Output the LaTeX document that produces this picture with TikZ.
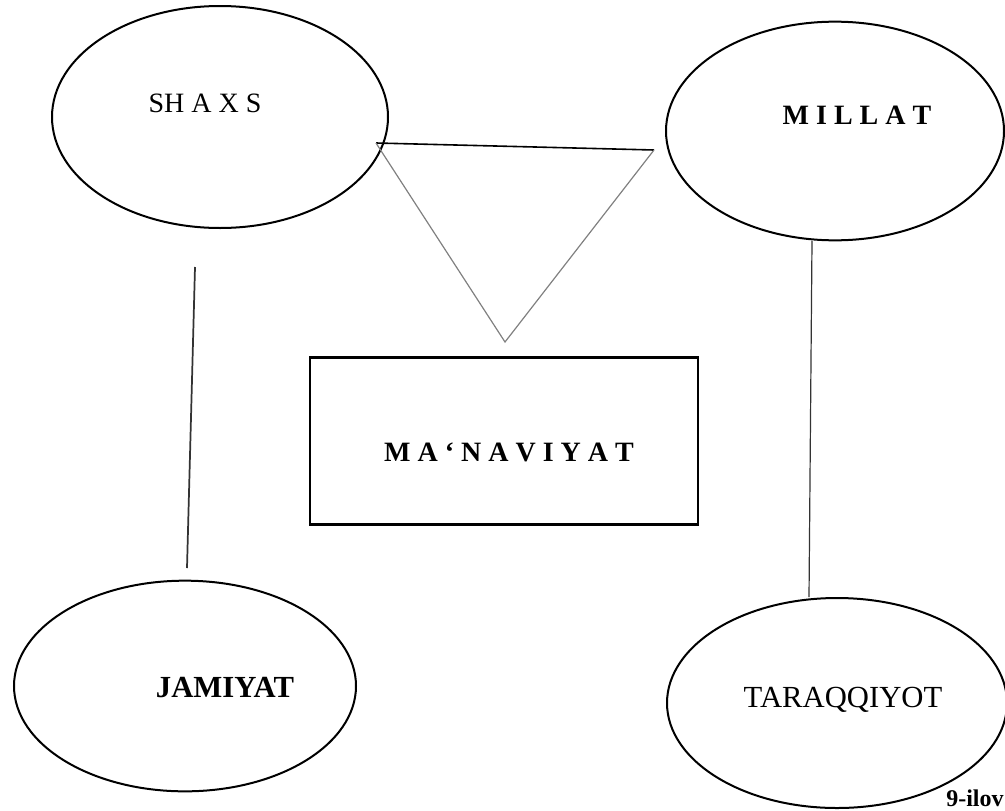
\documentclass[tikz,border=0pt]{standalone}
\usepackage{fontspec}
\setmainfont{Liberation Serif}
\usetikzlibrary{shapes}
\tikzset{
    oval/.style={draw, ellipse, line width=1.5pt, inner sep=0pt},
    word/.style={font=\fontsize{21}{25}\selectfont, inner sep=0pt},
    bword/.style={font=\fontsize{21}{25}\selectfont\bfseries, inner sep=0pt}
}

\begin{document}
\begin{tikzpicture}[x=0.75pt, y=-0.75pt]
\useasboundingbox (0,0) rectangle (1005,810);
\node(S) [oval, minimum width=252pt, minimum height=166.5pt] at (220,117) {};
\node(M) [oval, minimum width=253.5pt, minimum height=164pt] at (835,131) {};
\node(J) [oval, minimum width=256.5pt, minimum height=158pt] at (185,686) {};
\node(T) [oval, minimum width=255pt, minimum height=157.5pt] at (837,703) {};
\node(N) [draw, line width=1.8pt, minimum width=291pt, minimum height=125pt] at (504,441) {};
\node(S1) [word]  at (205,103) {SH A X S};
\node(M1) [bword] at (857,115) {M I L L A T};
\node(N1) [bword] at (509,452) {M A ‘ N A V I Y A T};
\node(J1) [bword, font=\fontsize{23}{27}\selectfont\bfseries] at (225,688) {JAMIYAT};
\node(T1) [word, font=\fontsize{23}{27}\selectfont]  at (843,700) {TARAQQIYOT};
\node(I)  [font=\fontsize{18}{20}\selectfont\bfseries, anchor=base west, inner sep=0pt] at (946,806) {9-ilov};
\coordinate(A) at (376,143);
\coordinate(B) at (654,150);
\coordinate(C) at (505,342);
\draw[line width=1.2pt] (A) -- (B);
\draw[gray, line width=0.9pt] (A) -- (C) -- (B);
\coordinate(L1) at (195,267);
\coordinate(L2) at (187,568);
\coordinate(R1) at (812,241);
\coordinate(R2) at (809,597);
\draw[black!80, line width=1.3pt] (L1) -- (L2);
\draw[black!80, line width=0.9pt] (R1) -- (R2);
\end{tikzpicture}
\end{document}
